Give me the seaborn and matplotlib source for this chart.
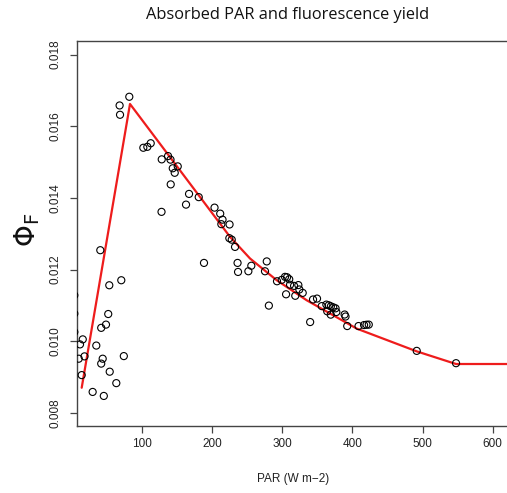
import matplotlib
matplotlib.use("Agg")
import matplotlib.pyplot as plt
import seaborn as sns
import pandas as pd

# ---- data ----
par = [41.0, 53.8, 70.9, 52.3, 49.1, 42.3, 16.0, 12.1, 35.3, 18.5, 10.3, 44.4, 42.3, 74.5,
       54.4, 14.5, 63.8, 30.1, 46.0, 4.0, 4.0, 4.0,
       82.3, 68.5, 69.1, 102.3, 108.0, 112.8, 128.5, 137.5, 141.0, 144.2, 151.3, 147.0,
       141.3, 128.2, 167.4, 181.2, 163.1, 203.7, 211.8, 215.1, 213.4, 225.1, 224.8, 228.2,
       232.9, 188.7, 236.5, 237.2, 251.9, 256.1, 275.6, 278.1, 281.1, 292.7, 299.4, 304.1,
       307.0, 310.1, 311.3, 317.0, 323.1, 324.5, 329.3, 305.6, 318.7, 344.0, 349.7, 339.9,
       356.4, 363.0, 366.4, 369.4, 372.8, 376.1, 364.2, 369.2, 377.2, 389.0, 390.3, 392.7,
       408.8, 416.7, 420.2, 423.4, 491.7, 547.7]
phi_f = [0.012540, 0.011561, 0.011701, 0.010758, 0.010462, 0.010372, 0.010050, 0.009910,
         0.009877, 0.009575, 0.009510, 0.009510, 0.009373, 0.009583, 0.009147, 0.009052,
         0.008828, 0.008582, 0.008470, 0.011281, 0.010769, 0.010255,
         0.016825, 0.016582, 0.016322, 0.015401, 0.015427, 0.015527, 0.015077, 0.015169,
         0.015069, 0.014828, 0.014881, 0.014702, 0.014378, 0.013611, 0.014112, 0.014022,
         0.013813, 0.013729, 0.013561, 0.013393, 0.013267, 0.013259, 0.012876, 0.012834,
         0.012632, 0.012185, 0.012185, 0.011933, 0.011952, 0.012106, 0.011952, 0.012227,
         0.010993, 0.011673, 0.011712, 0.011796, 0.011785, 0.011729, 0.011575, 0.011544,
         0.011566, 0.011443, 0.011348, 0.011309, 0.011267, 0.011164, 0.011189, 0.010534,
         0.010979, 0.011021, 0.011001, 0.010973, 0.010945, 0.010917, 0.010834, 0.010741,
         0.010814, 0.010744, 0.010688, 0.010422, 0.010422, 0.010450, 0.010459, 0.010462,
         0.009729, 0.009385]

fit_par = [14.5, 83.3, 154.6, 225.8, 254.3, 292.3, 335.0, 406.3, 491.7, 547.7, 640.0]
fit_phi = [0.008699, 0.016624, 0.014767, 0.012912, 0.012308, 0.011701, 0.011142,
           0.010350, 0.009715, 0.009362, 0.009362]

x_ticks = [100, 200, 300, 400, 500, 600]
y_ticks = [0.008, 0.010, 0.012, 0.014, 0.016, 0.018]
y_tick_labels = ["0.008", "0.010", "0.012", "0.014", "0.016", "0.018"]

title = "Absorbed PAR and fluorescence yield"
xlabel = "PAR (W m\u22122)"

pts = pd.DataFrame({"PAR": par, "phi": phi_f})
fit = pd.DataFrame({"PAR": fit_par, "phi": fit_phi})

sns.set_style("ticks")
plt.rcParams["font.family"] = ["Liberation Sans", "DejaVu Sans"]

fig = plt.figure(figsize=(5.07, 4.93), dpi=100)
ax = fig.add_axes([0.1513, 0.1349, 0.876, 0.7825])

sns.scatterplot(data=pts, x="PAR", y="phi", ax=ax, s=26, facecolor="none",
                edgecolor="black", linewidth=0.8, legend=False, zorder=3)
sns.lineplot(data=fit, x="PAR", y="phi", ax=ax, sort=False, estimator=None,
             color="#ee1c1c", linewidth=1.6, zorder=2)

ax.set_xlim(7.4, 640)
ax.set_ylim(0.007617, 0.01839)
ax.set_xticks(x_ticks)
ax.set_xticklabels([str(t) for t in x_ticks])
ax.set_yticks(y_ticks)
ax.set_yticklabels(y_tick_labels, rotation=90, va="center")
ax.set_xlabel("")
ax.set_ylabel("")

for side in ["left", "top", "bottom", "right"]:
    ax.spines[side].set_visible(True)
    ax.spines[side].set_color("#444444")
    ax.spines[side].set_linewidth(1.0)

ax.tick_params(axis="both", direction="out", length=5, width=0.9, color="#444444",
               labelsize=8.5, labelcolor="#222222")
ax.tick_params(axis="x", pad=3)
ax.tick_params(axis="y", pad=6)

fig.text(287.5 / 507, 1 - 15 / 493, title, ha="center", va="center",
         fontsize=11.8, family=["Open Sans", "DejaVu Sans"], color="#111111")
fig.text(293 / 507, 1 - 479 / 493, xlabel, ha="center", va="center",
         fontsize=8.5, color="#222222")
fig.text(27 / 507, 1 - 230 / 493, r"$\Phi_{\mathrm{F}}$", ha="center", va="center",
         rotation=90, fontsize=20, color="#111111")

fig.savefig("out.png", dpi=100)
